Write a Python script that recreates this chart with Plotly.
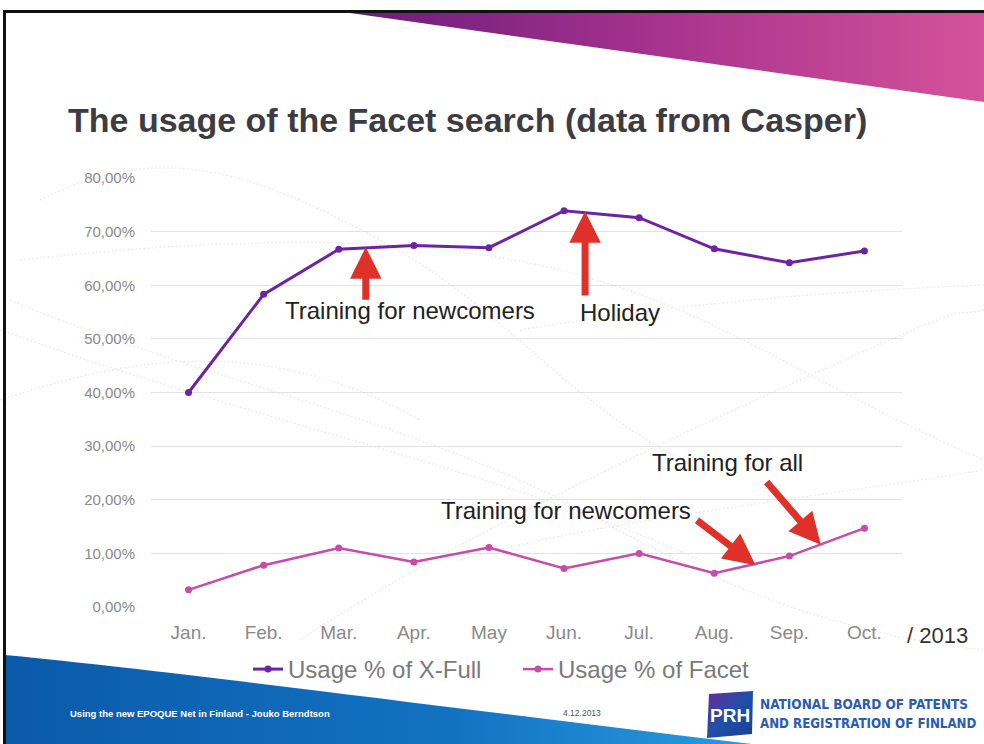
import base64
import plotly.graph_objects as go

# ---------------- data ----------------
months = ["Jan.", "Feb.", "Mar.", "Apr.", "May", "Jun.", "Jul.", "Aug.", "Sep.", "Oct."]
xfull_usage = [40.0, 58.3, 66.7, 67.4, 67.0, 73.9, 72.6, 66.8, 64.2, 66.4]
facet_usage = [3.2, 7.8, 11.0, 8.4, 11.1, 7.2, 10.0, 6.3, 9.5, 14.7]
y_ticks = [0, 10, 20, 30, 40, 50, 60, 70, 80]
y_tick_labels = ["0,00%", "10,00%", "20,00%", "30,00%", "40,00%", "50,00%", "60,00%", "70,00%", "80,00%"]

# ---------------- layout helpers (pixel -> paper) ----------------
W, H = 984, 744
L, R, T, B = 151, 902, 178, 607
PW, PH = R - L, B - T


def pxx(x):
    return (x - L) / PW


def pxy(y):
    return (B - y) / PH


# background decoration as an SVG image
svg = f"""<svg xmlns="http://www.w3.org/2000/svg" width="{W}" height="{H}" viewBox="0 0 {W} {H}">
<defs>
<linearGradient id="p" x1="0" x2="1" y1="0" y2="0">
<stop offset="0" stop-color="#6b1c7c"/><stop offset="0.5" stop-color="#a8338e"/><stop offset="1" stop-color="#d4529a"/>
</linearGradient>
<linearGradient id="b" x1="0" x2="1" y1="0" y2="0">
<stop offset="0" stop-color="#0b5aa9"/><stop offset="0.6" stop-color="#1272c2"/><stop offset="1" stop-color="#2a9ce0"/>
</linearGradient>
<linearGradient id="l" x1="0" x2="1" y1="0" y2="1">
<stop offset="0" stop-color="#6a2a9a"/><stop offset="0.5" stop-color="#1f4fa8"/><stop offset="1" stop-color="#1a3f94"/>
</linearGradient>
</defs>
<rect width="{W}" height="{H}" fill="#ffffff"/>
<g fill="none" stroke="#dedede" stroke-width="1.4" stroke-dasharray="2,2" opacity="0.55">
<path d="M10,300 C200,380 420,420 600,520 S900,640 984,650"/>
<path d="M0,330 C250,420 500,470 700,560"/>
<path d="M20,260 C200,240 400,230 560,270 S800,380 984,460"/>
<path d="M40,200 C160,140 250,170 380,240 S560,400 700,470"/>
<path d="M0,400 C120,360 260,330 420,420"/>
<path d="M300,640 C420,560 600,470 800,380 S940,320 984,310"/>
<path d="M460,560 C600,520 800,500 984,470"/>
<path d="M520,330 C700,300 860,290 984,285"/>
</g>
<path d="M350,13 L984,13 L984,102 Z" fill="url(#p)"/>
<path d="M5,655 C200,674 480,712 752,744 L5,744 Z" fill="url(#b)"/>
<path d="M709,694 L753,691 L752,734 L707,738 Z" fill="url(#l)"/>
<rect x="3" y="10" width="981" height="3" fill="#111111"/>
<rect x="3" y="10" width="3" height="734" fill="#111111"/>
</svg>"""
svg_uri = "data:image/svg+xml;base64," + base64.b64encode(svg.encode()).decode()

fig = go.Figure()

fig.add_trace(go.Scatter(
    x=months, y=xfull_usage, name="Usage % of X-Full", mode="lines+markers",
    line=dict(color="#6c23a6", width=3), marker=dict(color="#6c23a6", size=7),
))
fig.add_trace(go.Scatter(
    x=months, y=facet_usage, name="Usage % of Facet", mode="lines+markers",
    line=dict(color="#c94aa9", width=2.5), marker=dict(color="#c94aa9", size=7),
))

arrow_color = "#e0302a"
arrows = [
    # (head x, head y, tail x, tail y)
    (2.36, 67.1, 2.36, 57.0),
    (5.28, 73.8, 5.28, 57.8),
    (7.55, 7.8, 6.75, 16.4),
    (8.42, 11.6, 7.68, 23.6),
]
annotations = []
for hx, hy, tx, ty in arrows:
    annotations.append(dict(
        x=hx, y=hy, ax=tx, ay=ty, xref="x", yref="y", axref="x", ayref="y",
        showarrow=True, arrowhead=2, arrowsize=0.9, arrowwidth=7, arrowcolor=arrow_color,
        text="",
    ))

label_font = dict(family="Liberation Sans, Arial, sans-serif", size=24, color="#222222")
for text, x, y in [
    ("Training for newcomers", 2.95, 55.3),
    ("Holiday", 5.75, 54.9),
    ("Training for newcomers", 5.03, 18.0),
    ("Training for all", 7.17, 26.9),
]:
    annotations.append(dict(x=x, y=y, xref="x", yref="y", text=text, showarrow=False,
                            font=label_font, xanchor="center", yanchor="middle"))

annotations += [
    dict(x=pxx(905), y=pxy(635), xref="paper", yref="paper", text="/ 2013", showarrow=False,
         xanchor="left", yanchor="middle",
         font=dict(family="Liberation Sans, Arial, sans-serif", size=22, color="#333333")),
    dict(x=pxx(68), y=pxy(713), xref="paper", yref="paper",
         text="<b>Using the new EPOQUE Net in Finland - Jouko Berndtson</b>", showarrow=False,
         xanchor="left", yanchor="middle",
         font=dict(family="Liberation Sans, Arial, sans-serif", size=9.5, color="#ffffff")),
    dict(x=pxx(582), y=pxy(713), xref="paper", yref="paper", text="4.12.2013", showarrow=False,
         xanchor="center", yanchor="middle",
         font=dict(family="Liberation Sans, Arial, sans-serif", size=8.5, color="#555555")),
    dict(x=pxx(730), y=pxy(715), xref="paper", yref="paper", text="<b>PRH</b>", showarrow=False,
         xanchor="center", yanchor="middle",
         font=dict(family="Liberation Sans, Arial, sans-serif", size=19, color="#ffffff")),
    dict(x=pxx(758), y=pxy(704), xref="paper", yref="paper", text="<b>NATIONAL BOARD OF PATENTS</b>",
         showarrow=False, xanchor="left", yanchor="middle",
         font=dict(family="DejaVu Sans Condensed, Liberation Sans Narrow, sans-serif", size=13.5, color="#2a5cb0")),
    dict(x=pxx(758), y=pxy(723), xref="paper", yref="paper", text="<b>AND REGISTRATION OF FINLAND</b>",
         showarrow=False, xanchor="left", yanchor="middle",
         font=dict(family="DejaVu Sans Condensed, Liberation Sans Narrow, sans-serif", size=13.2, color="#2a5cb0")),
]

fig.update_layout(
    width=W, height=H,
    margin=dict(l=L, r=W - R, t=T, b=H - B),
    paper_bgcolor="#ffffff", plot_bgcolor="rgba(0,0,0,0)",
    title=dict(text="The usage of the Facet search (data from Casper)",
               x=68 / W, xanchor="left", y=1 - 120 / H, yanchor="middle", xref="container", yref="container",
               font=dict(family="Liberation Sans, Arial, sans-serif", size=34, color="#3c3c42", weight="bold")),
    images=[dict(source=svg_uri, xref="paper", yref="paper", x=pxx(0), y=pxy(0),
                 sizex=W / PW, sizey=H / PH, xanchor="left", yanchor="top",
                 sizing="stretch", layer="below")],
    xaxis=dict(type="category", range=[-0.5, 9.5], showgrid=False, zeroline=False, showline=False,
               ticks="outside", ticklen=8, tickcolor="rgba(0,0,0,0)",
               tickfont=dict(family="Liberation Sans, Arial, sans-serif", size=19, color="#8a8a8a")),
    yaxis=dict(range=[0, 80], tickvals=y_ticks, ticktext=y_tick_labels, showgrid=True,
               gridcolor="#e2e2e2", gridwidth=1.2, zeroline=False, showline=False,
               ticks="outside", ticklen=12, tickcolor="rgba(0,0,0,0)",
               tickfont=dict(family="Liberation Sans, Arial, sans-serif", size=15, color="#8a8a8a")),
    legend=dict(orientation="h", x=pxx(248), xanchor="left", y=pxy(647), yanchor="top",
                entrywidth=225, entrywidthmode="pixels",
                bgcolor="rgba(0,0,0,0)",
                font=dict(family="Liberation Sans, Arial, sans-serif", size=24, color="#7a7a7a")),
    annotations=annotations,
    showlegend=True,
)

fig.write_html("out.html", config={"displayModeBar": False},
               post_script="document.body.style.margin='0px';document.body.style.overflow='hidden';")
